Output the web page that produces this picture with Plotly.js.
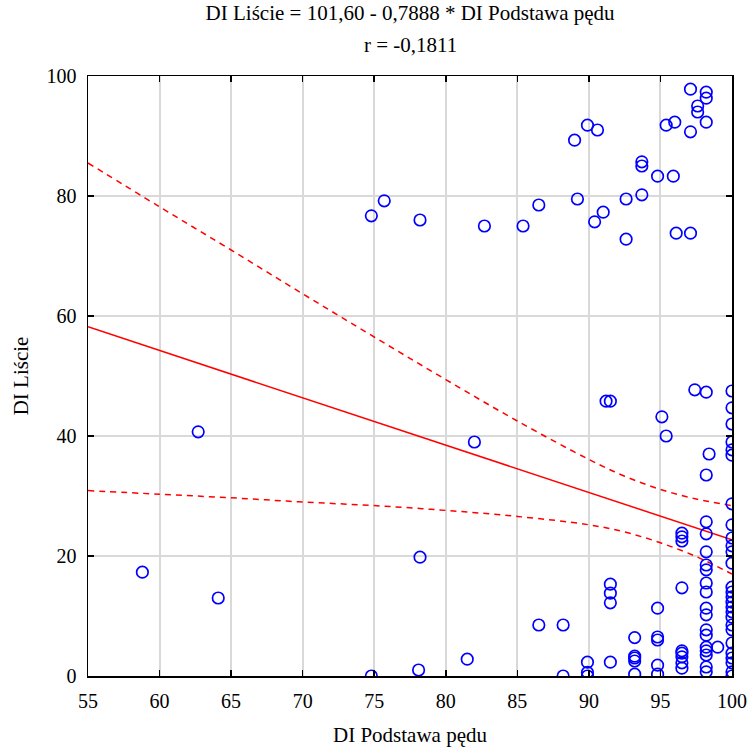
<!DOCTYPE html>
<html>
<head>
<meta charset="utf-8">
<script src="https://cdn.plot.ly/plotly-3.0.1.min.js"></script>
<style>html,body{margin:0;padding:0;background:#fff;}#chart{width:747px;height:747px;}</style>
</head>
<body>
<div id="chart"></div>
<script>
// Observed points: DI Podstawa pędu (x) vs DI Liście (y)
const pointsX = [
  58.8, 62.7, 64.1,
  74.8, 75.7, 74.8, 78.2, 78.2, 78.1, 81.5, 82.0, 82.7, 85.4, 86.5, 86.5, 88.2, 88.2,
  89.0, 89.2, 89.9, 90.6, 90.4, 91.0, 89.9, 89.9, 89.9,
  91.2, 91.5, 91.5, 91.5, 91.5, 91.5,
  92.6, 92.6, 93.2, 93.2, 93.2, 93.2, 93.2,
  93.7, 93.7, 93.7, 94.8, 95.9, 95.4, 96.0, 97.1, 97.1, 97.6, 97.6, 98.2, 98.2, 98.2,
  96.1, 97.1,
  94.8, 94.8, 94.8, 94.8, 94.8, 95.1, 95.4,
  97.4, 98.2, 98.4, 98.2,
  98.2, 98.2, 98.2, 98.2, 98.2, 98.2, 98.2, 98.2, 98.2, 98.2, 98.2, 98.2, 98.2, 98.2, 98.2, 98.2,
  96.5, 96.5, 96.5, 96.5, 96.5, 96.5, 96.5, 96.5, 96.5,
  99.0,
  100, 100, 100, 100, 100, 100, 100, 100, 100, 100, 100, 100, 100, 100, 100, 100, 100, 100, 100, 100, 100, 100, 100, 100, 100, 100, 100
];
const pointsY = [
  17.3, 40.7, 13.0,
  76.7, 79.2, 0.0, 76.0, 19.8, 1.0, 2.8, 39.0, 75.0, 75.0, 78.5, 8.5, 8.5, 0.0,
  89.3, 79.5, 91.8, 91.0, 75.7, 77.3, 2.3, 0.6, 0.0,
  45.8, 45.8, 15.3, 13.8, 12.2, 2.3,
  79.5, 72.8, 6.4, 3.3, 3.0, 2.5, 0.3,
  85.7, 85.0, 80.2, 83.3, 83.3, 91.8, 92.3, 90.7, 97.8, 95.0, 94.0, 97.3, 96.3, 92.3,
  73.8, 73.8,
  11.3, 6.5, 6.0, 1.8, 0.3, 43.2, 40.0,
  47.7, 47.3, 37.0, 33.5,
  25.7, 23.7, 20.7, 18.5, 17.7, 15.5, 14.0, 11.3, 10.2, 7.7, 6.8, 4.8, 4.2, 3.5, 1.5, 0.7,
  23.8, 23.2, 22.5, 14.7, 4.2, 3.8, 3.2, 2.2, 1.3,
  4.8,
  47.5, 44.7, 42.0, 39.0, 37.7, 36.8, 28.7, 25.2, 23.0, 21.7, 20.7, 18.8, 14.8, 14.0, 13.2, 12.3, 11.5, 10.7, 9.8, 8.5, 7.7, 5.5, 3.8, 3.0, 2.2, 0.7, 0.0
];

// Fitted regression line
const fitX = [55, 100];
const fitY = [58.2, 22.7];

// 95% confidence band
const bandX = [55, 60, 65, 70, 75, 80, 85, 90, 92.5, 95, 97.5, 100];
const bandUpper = [85.5, 78.2, 71.0, 63.7, 56.5, 49.4, 42.5, 36.1, 33.3, 31.1, 29.5, 28.4];
const bandLower = [30.9, 30.3, 29.7, 29.0, 28.4, 27.6, 26.6, 25.2, 24.0, 22.2, 19.9, 17.0];

const xTicks = [55, 60, 65, 70, 75, 80, 85, 90, 95, 100];
const yTicks = [0, 20, 40, 60, 80, 100];

const serif = '"Liberation Serif", "Times New Roman", Times, serif';

const traces = [
  {x: bandX, y: bandUpper, mode: 'lines', line: {color: '#ff0000', width: 1.5, dash: '6px,5px', shape: 'spline'}, hoverinfo: 'skip', showlegend: false},
  {x: bandX, y: bandLower, mode: 'lines', line: {color: '#ff0000', width: 1.5, dash: '6px,5px', shape: 'spline'}, hoverinfo: 'skip', showlegend: false},
  {x: fitX, y: fitY, mode: 'lines', line: {color: '#ff0000', width: 1.5}, showlegend: false},
  {x: pointsX, y: pointsY, mode: 'markers', type: 'scatter',
   marker: {symbol: 'circle-open', size: 11.5, color: '#0000ff', line: {width: 1.7, color: '#0000ff'}}, showlegend: false}
];

const layout = {
  width: 747, height: 747,
  paper_bgcolor: '#ffffff', plot_bgcolor: '#ffffff',
  margin: {l: 88, r: 15, t: 76, b: 71},
  font: {family: serif, size: 20, color: '#000000'},
  title: {text: 'DI Liście = 101,60 - 0,7888 * DI Podstawa pędu', font: {family: serif, size: 21, color: '#000'},
          x: 0.549, xanchor: 'center', y: 0.993, yanchor: 'top', yref: 'container'},
  annotations: [
    {text: 'r = -0,1811', xref: 'paper', yref: 'paper', x: 0.5, y: 1.0, yshift: 31, showarrow: false,
     xanchor: 'center', yanchor: 'middle', font: {family: serif, size: 21, color: '#000'}}
  ],
  xaxis: {
    range: [55, 100], tickvals: xTicks, ticktext: xTicks.map(String),
    ticks: 'inside', ticklen: 6, tickwidth: 1.5, tickcolor: '#000', mirror: 'allticks',
    showline: true, linecolor: '#000', linewidth: 1.5,
    showgrid: true, gridcolor: '#d9d9d9', gridwidth: 2, zeroline: false,
    tickfont: {family: serif, size: 20}, ticklabelstandoff: 6,
    title: {text: 'DI Podstawa pędu', font: {family: serif, size: 21}, standoff: 18}
  },
  yaxis: {
    range: [0, 100], tickvals: yTicks, ticktext: yTicks.map(String),
    ticks: 'inside', ticklen: 6, tickwidth: 1.5, tickcolor: '#000', mirror: 'allticks',
    showline: true, linecolor: '#000', linewidth: 1.5,
    showgrid: true, gridcolor: '#d9d9d9', gridwidth: 2, zeroline: false,
    tickfont: {family: serif, size: 20}, ticklabelstandoff: 6,
    title: {text: 'DI Liście', font: {family: serif, size: 21}, standoff: 12}
  }
};

Plotly.newPlot('chart', traces, layout, {displayModeBar: false, staticPlot: true});
</script>
</body>
</html>
